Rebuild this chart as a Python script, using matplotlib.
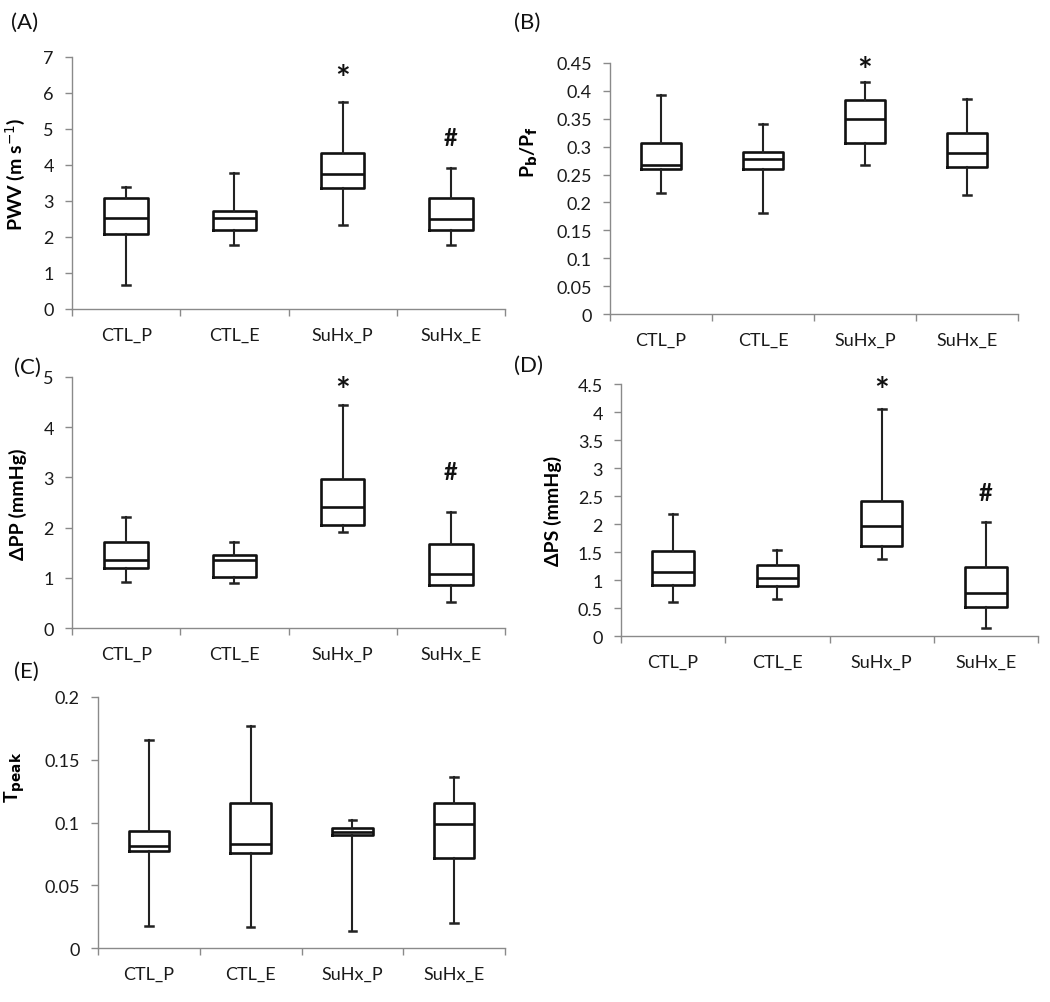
import matplotlib
matplotlib.use("Agg")
import matplotlib.pyplot as plt
from matplotlib.ticker import FixedLocator, FuncFormatter, MultipleLocator

plt.rcParams['font.family'] = ['Lato', 'DejaVu Sans']

categories = ["CTL_P", "CTL_E", "SuHx_P", "SuHx_E"]

# Panel A: PWV
pwv_low = [0.67, 1.79, 2.34, 1.79]
pwv_q1 = [2.08, 2.19, 3.35, 2.19]
pwv_med = [2.54, 2.54, 3.76, 2.50]
pwv_q3 = [3.09, 2.71, 4.34, 3.09]
pwv_high = [3.39, 3.79, 5.74, 3.91]

# Panel B: Pb/Pf
pbpf_low = [0.217, 0.181, 0.267, 0.213]
pbpf_q1 = [0.260, 0.260, 0.307, 0.263]
pbpf_med = [0.267, 0.278, 0.350, 0.289]
pbpf_q3 = [0.306, 0.290, 0.383, 0.325]
pbpf_high = [0.392, 0.341, 0.416, 0.386]

# Panel C: delta PP
dpp_low = [0.91, 0.89, 1.92, 0.52]
dpp_q1 = [1.20, 1.01, 2.05, 0.85]
dpp_med = [1.36, 1.36, 2.42, 1.07]
dpp_q3 = [1.71, 1.46, 2.96, 1.67]
dpp_high = [2.21, 1.71, 4.45, 2.32]

# Panel D: delta PS
dps_low = [0.61, 0.66, 1.38, 0.14]
dps_q1 = [0.91, 0.89, 1.61, 0.51]
dps_med = [1.14, 1.03, 1.96, 0.76]
dps_q3 = [1.52, 1.26, 2.41, 1.23]
dps_high = [2.18, 1.53, 4.05, 2.03]

# Panel E: Tpeak
tpk_low = [0.0175, 0.0164, 0.0132, 0.0199]
tpk_q1 = [0.0773, 0.0755, 0.0898, 0.0715]
tpk_med = [0.0816, 0.0829, 0.0927, 0.0990]
tpk_q3 = [0.0932, 0.1158, 0.0954, 0.1152]
tpk_high = [0.166, 0.177, 0.1017, 0.1364]

# Significance marks: (category index, y value, symbol)
marks_A = [(2, 6.61, "*"), (3, 4.76, "#")]
marks_B = [(2, 0.451, "*")]
marks_C = [(2, 4.89, "*"), (3, 3.11, "#")]
marks_D = [(2, 4.53, "*"), (3, 2.56, "#")]
marks_E = []

W, H = 1050, 1003
fig = plt.figure(figsize=(W / 100, H / 100), dpi=100)

panels = [
    dict(tag="(A)", box=(72, 505, 58, 310), ylim=(0, 7), step=1,
         data=(pwv_low, pwv_q1, pwv_med, pwv_q3, pwv_high), marks=marks_A,
         ylabel="PWV (m s$^{-1}$)", lab=(27, 174), tagpos=(11, 23)),
    dict(tag="(B)", box=(610, 1018, 64, 315), ylim=(0, 0.45), step=0.05,
         data=(pbpf_low, pbpf_q1, pbpf_med, pbpf_q3, pbpf_high), marks=marks_B,
         ylabel="P$_\\mathbf{b}$/P$_\\mathbf{f}$", lab=(540, 152), tagpos=(514, 23)),
    dict(tag="(C)", box=(72, 505, 378, 629), ylim=(0, 5), step=1,
         data=(dpp_low, dpp_q1, dpp_med, dpp_q3, dpp_high), marks=marks_C,
         ylabel="ΔPP (mmHg)", lab=(27, 504), tagpos=(14, 368)),
    dict(tag="(D)", box=(621, 1038, 385, 637), ylim=(0, 4.5), step=0.5,
         data=(dps_low, dps_q1, dps_med, dps_q3, dps_high), marks=marks_D,
         ylabel="ΔPS (mmHg)", lab=(562, 511), tagpos=(514, 366)),
    dict(tag="(E)", box=(98, 505, 698, 949), ylim=(0, 0.2), step=0.05,
         data=(tpk_low, tpk_q1, tpk_med, tpk_q3, tpk_high), marks=marks_E,
         ylabel="T$_\\mathbf{peak}$", lab=(27, 777), tagpos=(14, 672)),
]

edge = "#111111"
spine_c = "#8a8a8a"

for p in panels:
    l, r, t, b = p["box"]
    ax = fig.add_axes([l / W, 1 - b / H, (r - l) / W, (b - t) / H])
    low, q1, med, q3, high = p["data"]
    stats = []
    for i, c in enumerate(categories):
        stats.append(dict(label=c, whislo=low[i], q1=q1[i], med=med[i],
                          q3=q3[i], whishi=high[i], fliers=[]))
    ax.bxp(stats, positions=[1, 2, 3, 4], widths=0.4, capwidths=0.075,
           showfliers=False,
           boxprops=dict(color=edge, linewidth=1.9),
           medianprops=dict(color=edge, linewidth=1.9),
           whiskerprops=dict(color="#222222", linewidth=1.5),
           capprops=dict(color="#222222", linewidth=1.8))
    ax.set_xlim(0.5, 4.5)
    ax.set_ylim(*p["ylim"])
    ax.yaxis.set_major_locator(MultipleLocator(p["step"]))
    ax.yaxis.set_major_formatter(FuncFormatter(lambda v, pos: f"{round(v, 4):g}"))
    ax.xaxis.set_major_locator(FixedLocator([0.5, 1.5, 2.5, 3.5, 4.5]))
    ax.xaxis.set_major_formatter(FuncFormatter(lambda v, pos: ""))
    ax.xaxis.set_minor_locator(FixedLocator([1, 2, 3, 4]))
    ax.set_xticklabels(categories, minor=True)
    ax.tick_params(axis="x", which="major", length=5, width=1, color=spine_c, direction="out")
    ax.tick_params(axis="x", which="minor", length=0, pad=13, labelsize=13, labelcolor="#1a1a1a")
    ax.tick_params(axis="y", length=5, width=1, color=spine_c, labelsize=13,
                   labelcolor="#1a1a1a", pad=8)
    for s in ("top", "right"):
        ax.spines[s].set_visible(False)
    for s in ("left", "bottom"):
        ax.spines[s].set_color(spine_c)
        ax.spines[s].set_linewidth(1)
    ax.set_ylabel(p["ylabel"], fontsize=14, fontweight="bold")
    ax.yaxis.set_label_coords(p["lab"][0] / W, 1 - p["lab"][1] / H, transform=fig.transFigure)
    for (ci, yv, sym) in p["marks"]:
        if sym == "*":
            ax.annotate(sym, (ci + 1, yv), xytext=(0, -6), textcoords="offset points",
                        ha="center", va="center", fontsize=25, fontweight="bold",
                        annotation_clip=False, color="#111111")
        else:
            ax.annotate(sym, (ci + 1, yv), xytext=(0, 0), textcoords="offset points",
                        ha="center", va="center", fontsize=17, fontweight="bold",
                        annotation_clip=False, color="#111111")
    fig.text(p["tagpos"][0] / W, 1 - p["tagpos"][1] / H, p["tag"], fontsize=16,
             ha="left", va="center", color="#111111")

fig.savefig("out.png", dpi=100)
